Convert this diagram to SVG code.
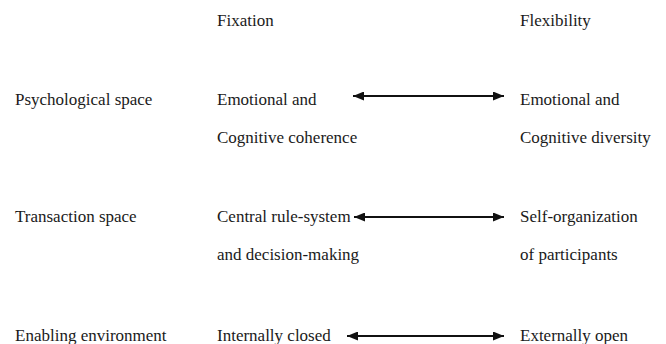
<svg xmlns="http://www.w3.org/2000/svg" width="666" height="344" viewBox="0 0 666 344">
  <style>
    text { font-family: "Liberation Serif", "Times New Roman", serif; font-size: 17px; fill: #1a1a1a; }
    .conn { stroke: #111; stroke-width: 1.8; fill: none; }
  </style>
  <defs>
    <marker id="ah" markerUnits="userSpaceOnUse" markerWidth="11" markerHeight="9" viewBox="0 0 11 9" refX="11" refY="4.5" orient="auto-start-reverse">
      <path d="M0,0 L11,4.5 L0,9 Z" fill="#111"/>
    </marker>
  </defs>
  <rect width="666" height="344" fill="#fff"/>

  <g id="header-fixation"><text x="217" y="26">Fixation</text></g>
  <g id="header-flexibility"><text x="520" y="26">Flexibility</text></g>

  <g id="row-psychological"><text x="15" y="105">Psychological space</text></g>
  <g id="psych-fixation"><text x="217" y="105">Emotional and</text><text x="217" y="143">Cognitive coherence</text></g>
  <g id="psych-flexibility"><text x="520" y="105">Emotional and</text><text x="520" y="143">Cognitive diversity</text></g>

  <g id="row-transaction"><text x="15" y="222">Transaction space</text></g>
  <g id="trans-fixation"><text x="217" y="222">Central rule-system</text><text x="217" y="260">and decision-making</text></g>
  <g id="trans-flexibility"><text x="520" y="222">Self-organization</text><text x="520" y="260">of participants</text></g>

  <g id="row-enabling"><text x="15" y="341">Enabling environment</text></g>
  <g id="enab-fixation"><text x="217" y="341">Internally closed</text></g>
  <g id="enab-flexibility"><text x="520" y="341">Externally open</text></g>

  <g id="connectors">
    <line class="conn" x1="353" y1="96" x2="504" y2="96" marker-start="url(#ah)" marker-end="url(#ah)"/>
    <line class="conn" x1="354" y1="217" x2="504" y2="217" marker-start="url(#ah)" marker-end="url(#ah)"/>
    <line class="conn" x1="347" y1="336" x2="504" y2="336" marker-start="url(#ah)" marker-end="url(#ah)"/>
  </g>
</svg>
